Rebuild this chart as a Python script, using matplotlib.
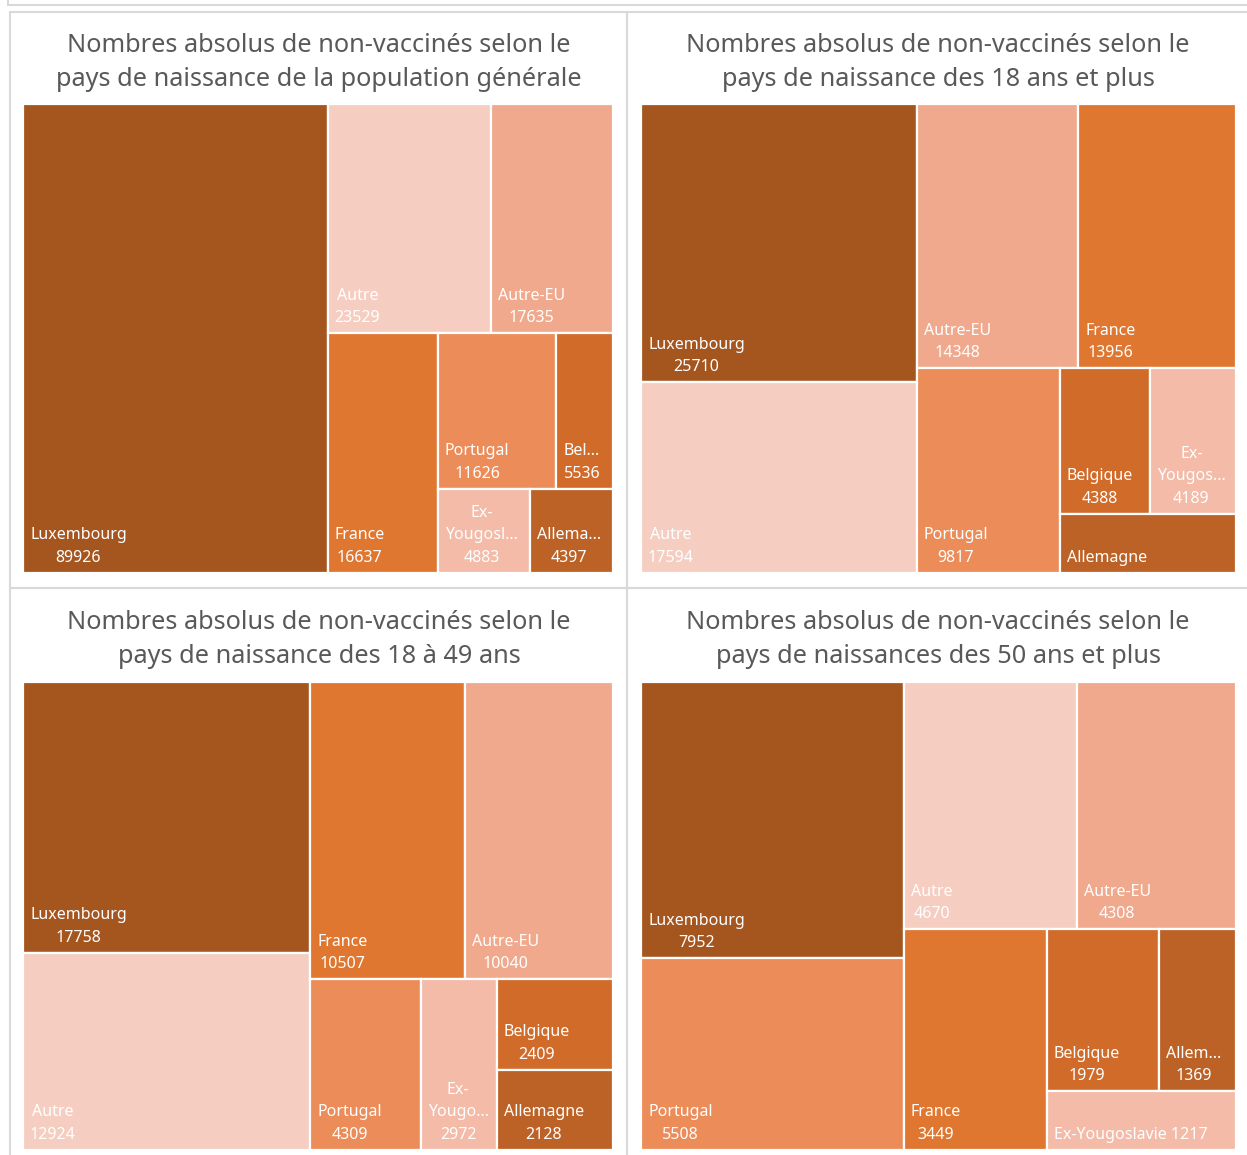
import numpy as np
import matplotlib.pyplot as plt
from matplotlib.patches import Rectangle

plt.rcParams['font.family'] = ['Noto Sans', 'DejaVu Sans']

# categories and colours (same colour per country in every panel)
categories = ['Luxembourg', 'Autre', 'Autre-EU', 'France', 'Portugal',
              'Belgique', 'Ex-Yougoslavie', 'Allemagne']
cat_colors = ['#A5561F', '#F6CEC1', '#F0A98C', '#E07730', '#EB8C59',
              '#D16B2A', '#F3BBA8', '#BD6227']

# values per panel, in the order of categories
vals_total = [89926, 23529, 17635, 16637, 11626, 5536, 4883, 4397]
vals_18plus = [25710, 17594, 14348, 13956, 9817, 4388, 4189, 3497]
vals_18_49 = [17758, 12924, 10040, 10507, 4309, 2409, 2972, 2128]
vals_50plus = [7952, 4670, 4308, 3449, 5508, 1979, 1217, 1369]

# labels as Excel shows them (truncated where the cell is too small)
labels_total = ['Luxembourg\n89926', 'Autre\n23529', 'Autre-EU\n17635',
                'France\n16637', 'Portugal\n11626', 'Bel...\n5536',
                'Ex-\nYougosl...\n4883', 'Allema...\n4397']
labels_18plus = ['Luxembourg\n25710', 'Autre\n17594', 'Autre-EU\n14348',
                 'France\n13956', 'Portugal\n9817', 'Belgique\n4388',
                 'Ex-\nYougos...\n4189', 'Allemagne']
labels_18_49 = ['Luxembourg\n17758', 'Autre\n12924', 'Autre-EU\n10040',
                'France\n10507', 'Portugal\n4309', 'Belgique\n2409',
                'Ex-\nYougo...\n2972', 'Allemagne\n2128']
labels_50plus = ['Luxembourg\n7952', 'Autre\n4670', 'Autre-EU\n4308',
                 'France\n3449', 'Portugal\n5508', 'Belgique\n1979',
                 'Ex-Yougoslavie 1217', 'Allem...\n1369']

titles = ['Nombres absolus de non-vaccinés selon le\npays de naissance de la population générale',
          'Nombres absolus de non-vaccinés selon le\npays de naissance des 18 ans et plus',
          'Nombres absolus de non-vaccinés selon le\npays de naissance des 18 à 49 ans',
          'Nombres absolus de non-vaccinés selon le\npays de naissances des 50 ans et plus']

W, H = 1247, 1155
DPI = 100


def squarify(values, x, y, w, h, target=0.75):
    """strip layout, Excel-like: strip on the short side, cells aimed at w/h ~ target"""
    order = list(np.argsort(values)[::-1])
    rects = {}
    while order:
        total = sum(values[i] for i in order)
        vertical = w >= h  # column on the left, else row on top

        def cells(k):
            s = sum(values[i] for i in order[:k])
            out = []
            if vertical:
                sw = s / total * w
                yy = y
                for i in order[:k]:
                    ch = values[i] / s * h
                    out.append((i, x, yy, sw, ch))
                    yy += ch
            else:
                sh = s / total * h
                xx = x
                for i in order[:k]:
                    cw = values[i] / s * w
                    out.append((i, xx, y, cw, sh))
                    xx += cw
            return out

        def score(k):
            return max(abs(np.log((c[3] / c[4]) / target)) for c in cells(k))

        k = 1
        while k < len(order) and score(k + 1) <= score(k):
            k += 1
        strip = cells(k)
        for i, cx, cy, cw, ch in strip:
            rects[i] = (cx, cy, cw, ch)
        if vertical:
            dw = strip[0][3]
            x += dw
            w -= dw
        else:
            dh = strip[0][4]
            y += dh
            h -= dh
        order = order[k:]
    return rects


fig = plt.figure(figsize=(W / DPI, H / DPI), dpi=DPI)
bg = fig.add_axes([0, 0, 1, 1])
bg.set_xlim(0, W)
bg.set_ylim(H, 0)
bg.axis('off')

border = '#D9D9D9'
# bottom edge of the chart above (cut off)
bg.add_patch(Rectangle((8, -50), 1300, 55, fill=False, ec=border, lw=1.5))
panel_boxes = [(9.5, 11.5, 617, 576), (627, 11.5, 640, 576),
               (9.5, 588, 617, 600), (627, 588, 640, 600)]
for bx, by, bw, bh in panel_boxes:
    bg.add_patch(Rectangle((bx, by), bw, bh, fill=False, ec=border, lw=1.5))

areas = [(23, 104, 590, 469), (641, 104, 595, 469),
         (23, 682, 590, 468), (641, 682, 595, 468)]
title_pos = [(319, 62.5), (938, 62.5), (319, 639.5), (938, 639.5)]
panel_vals = [vals_total, vals_18plus, vals_18_49, vals_50plus]
panel_labels = [labels_total, labels_18plus, labels_18_49, labels_50plus]

for p in range(4):
    tx, ty = title_pos[p]
    bg.text(tx, ty, titles[p], ha='center', va='center', fontsize=18.2,
            color='#595959', linespacing=1.5)

    ax_x, ax_y, ax_w, ax_h = areas[p]
    ax = fig.add_axes([ax_x / W, 1 - (ax_y + ax_h) / H, ax_w / W, ax_h / H])
    ax.set_xlim(0, ax_w)
    ax.set_ylim(ax_h, 0)
    ax.axis('off')

    rects = squarify(panel_vals[p], 0, 0, ax_w, ax_h)
    for i, (cx, cy, cw, ch) in rects.items():
        ax.add_patch(Rectangle((cx, cy), cw, ch, fc=cat_colors[i],
                               ec='white', lw=1.6))
        ax.text(cx + 7, cy + ch - 7, panel_labels[p][i], ha='left', va='bottom',
                multialignment='center', fontsize=11.5, color='white',
                linespacing=1.55)

fig.savefig('out.png', dpi=DPI)
